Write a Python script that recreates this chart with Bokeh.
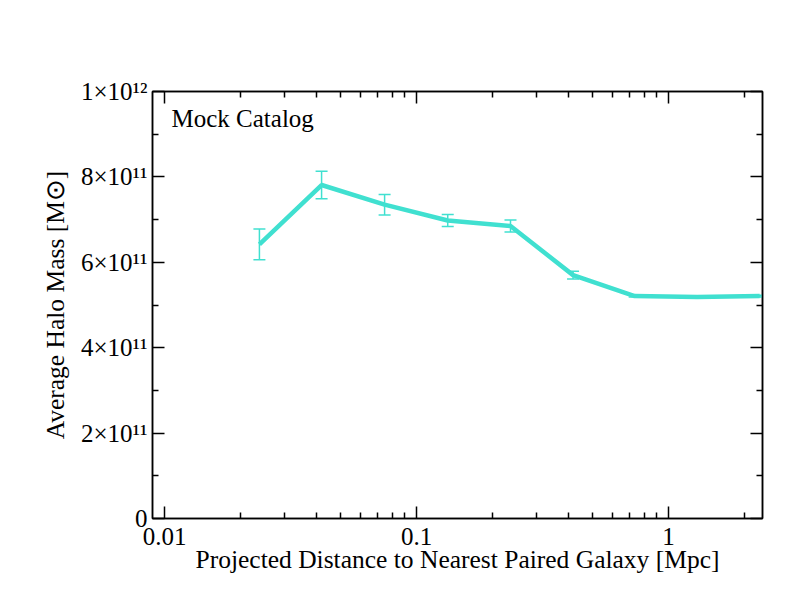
from bokeh.plotting import figure
from bokeh.models import (Range1d, FixedTicker, LinearAxis, LogAxis, Whisker,
                          ColumnDataSource, Label, TeeHead, CustomJSTickFormatter)
from bokeh.embed import file_html
from bokeh.resources import INLINE

# ---- data ----
distance_mpc = [0.0238, 0.0420, 0.0747, 0.1330, 0.2360, 0.4180, 0.7340, 1.300, 2.300]
halo_mass = [6.42e11, 7.81e11, 7.35e11, 6.98e11, 6.85e11, 5.70e11, 5.21e11, 5.19e11, 5.21e11]
halo_err = [0.36e11, 0.32e11, 0.24e11, 0.14e11, 0.14e11, 0.09e11, 0.02e11, 0.02e11, 0.02e11]

x_ticks = [0.01, 0.1, 1]
x_tick_labels = ["0.01", "0.1", "1"]
y_ticks = [0, 2e11, 4e11, 6e11, 8e11, 1e12]
y_tick_labels = ["0", "2\u00d710\u00b9\u00b9", "4\u00d710\u00b9\u00b9", "6\u00d710\u00b9\u00b9",
                 "8\u00d710\u00b9\u00b9", "1\u00d710\u00b9\u00b2"]
y_minor = [1e11, 3e11, 5e11, 7e11, 9e11]

FONT = "Liberation Serif"
COLOR = "#40E0D0"

src = ColumnDataSource(dict(
    x=distance_mpc, y=halo_mass,
    lo=[m - e for m, e in zip(halo_mass, halo_err)],
    hi=[m + e for m, e in zip(halo_mass, halo_err)],
))

p = figure(x_axis_type="log", output_backend="svg", toolbar_location=None,
           frame_width=610, frame_height=427,
           min_border_left=152, min_border_right=19, min_border_top=91, min_border_bottom=84,
           x_range=Range1d(0.00896, 2.36), y_range=Range1d(0, 1e12),
           background_fill_color="white", border_fill_color="white")
p.grid.visible = False
p.outline_line_color = "black"
p.outline_line_width = 1.5

x_minor = [m * d for d in (0.01, 0.1, 1) for m in range(2, 10)]
xt = FixedTicker(ticks=x_ticks, minor_ticks=x_minor)
yt = FixedTicker(ticks=y_ticks, minor_ticks=y_minor)

LOOKUP = """
for (let i = 0; i < tv.length; i++) {
  const t = tv[i];
  if (Math.abs(t - tick) <= 1e-6 * Math.max(Math.abs(t), 1e-12)) { return lbl[i]; }
}
return '';
"""


def fmt(tick_values, labels):
    return CustomJSTickFormatter(args=dict(tv=tick_values, lbl=labels), code=LOOKUP)


def style(ax):
    ax.axis_line_color = "black"
    ax.axis_line_width = 1.5
    ax.major_tick_line_color = "black"
    ax.minor_tick_line_color = "black"
    ax.major_tick_line_width = 1.5
    ax.minor_tick_line_width = 1.5
    ax.major_tick_in = 12
    ax.major_tick_out = 0
    ax.minor_tick_in = 6
    ax.minor_tick_out = 0
    ax.major_label_text_font = FONT
    ax.major_label_text_font_size = "25px"
    ax.major_label_text_color = "black"
    ax.axis_label_text_font = FONT
    ax.axis_label_text_font_size = "25.5px"
    ax.axis_label_text_font_style = "normal"
    ax.axis_label_text_color = "black"


xa = p.xaxis[0]
xa.ticker = xt
xa.formatter = fmt(x_ticks, x_tick_labels)
style(xa)
xa.axis_label = "Projected Distance to Nearest Paired Galaxy [Mpc]"
xa.major_label_standoff = 9
xa.axis_label_standoff = -3

ya = p.yaxis[0]
ya.ticker = yt
ya.formatter = fmt(y_ticks, y_tick_labels)
style(ya)
ya.axis_label = "Average Halo Mass [M\u2299]"
ya.major_label_standoff = 5
ya.axis_label_standoff = 8

blank = CustomJSTickFormatter(code="return '';")

top = LogAxis(ticker=xt, formatter=blank)
style(top)
top.major_label_standoff = 0
p.add_layout(top, "above")

right = LinearAxis(ticker=yt, formatter=blank)
style(right)
right.major_label_standoff = 0
p.add_layout(right, "right")

w = Whisker(source=src, base="x", lower="lo", upper="hi", dimension="height",
            line_color=COLOR, line_width=1.5,
            upper_head=TeeHead(size=12, line_color=COLOR, line_width=1.5),
            lower_head=TeeHead(size=12, line_color=COLOR, line_width=1.5))
p.add_layout(w)

p.line("x", "y", source=src, line_width=4.5, line_color=COLOR)

p.add_layout(Label(x=19, y=400, x_units="screen", y_units="screen", text="Mock Catalog",
                   text_font=FONT, text_font_size="25px", text_color="black",
                   text_baseline="alphabetic"))

open("out.html", "w").write(file_html(p, INLINE))
